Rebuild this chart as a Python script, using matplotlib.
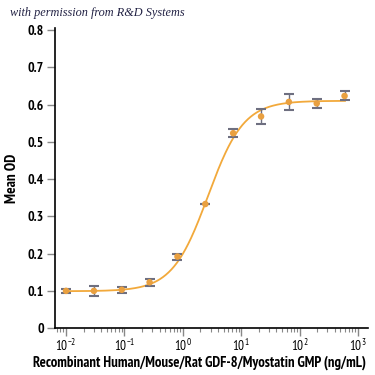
import numpy as np
import matplotlib
matplotlib.use("Agg")
import matplotlib.pyplot as plt
from matplotlib.ticker import LogLocator, FixedLocator

# measured points (3-fold dilution series)
conc = [0.01, 0.03, 0.09, 0.27, 0.81, 2.43, 7.29, 21.9, 65.6, 197, 590]
mean_od = [0.100, 0.100, 0.103, 0.123, 0.192, 0.333, 0.523, 0.568, 0.607, 0.603, 0.623]
err = [0.005, 0.013, 0.008, 0.010, 0.008, 0.0, 0.010, 0.020, 0.022, 0.012, 0.012]

# 4PL fit parameters: bottom, top, ec50, hill
fit_bottom, fit_top, fit_ec50, fit_hill = 0.099, 0.610, 2.7, 1.42

ytick_vals = [0, 0.1, 0.2, 0.3, 0.4, 0.5, 0.6, 0.7, 0.8]
ytick_labels = ["0", "0.1", "0.2", "0.3", "0.4", "0.5", "0.6", "0.7", "0.8"]
xtick_vals = [1e-2, 1e-1, 1, 10, 100, 1000]

plt.rcParams["font.family"] = ["PT Sans Narrow", "DejaVu Sans"]
plt.rcParams["mathtext.fontset"] = "custom"
plt.rcParams["mathtext.rm"] = "PT Sans Narrow"
plt.rcParams["mathtext.it"] = "PT Sans Narrow"
plt.rcParams["mathtext.bf"] = "PT Sans Narrow:bold"

line_col = "#F2A93B"
dot_col = "#E9A040"
err_col = "#6E6F80"

fig = plt.figure(figsize=(3.75, 3.75), dpi=100)
ax = fig.add_axes([0.147, 0.125, 0.834, 0.80])

xs = np.logspace(-2, np.log10(600), 300)
ys = fit_bottom + (fit_top - fit_bottom) / (1 + (fit_ec50 / xs) ** fit_hill)
ax.plot(xs, ys, color=line_col, lw=1.3, zorder=2)
ax.errorbar(conc, mean_od, yerr=err, fmt="none", ecolor=err_col, elinewidth=1.0,
            capsize=3.5, capthick=1.5, zorder=3)
ax.scatter(conc, mean_od, s=22, color=dot_col, zorder=4, edgecolors="none")

ax.set_xscale("log")
ax.set_xlim(0.0065, 1480)
ax.set_ylim(0, 0.805)
ax.set_yticks(ytick_vals)
ax.set_yticklabels(ytick_labels)
ax.xaxis.set_major_locator(FixedLocator(xtick_vals))
ax.xaxis.set_minor_locator(LogLocator(base=10, subs=np.arange(2, 10), numticks=20))

for s in ["top", "right"]:
    ax.spines[s].set_visible(False)
for s in ["left", "bottom"]:
    ax.spines[s].set_linewidth(1.2)
    ax.spines[s].set_color("black")

ax.tick_params(axis="both", which="major", color="#888888", length=6, width=1.0,
               labelsize=10, pad=2)
ax.tick_params(axis="x", which="major", labelsize=9.5, pad=1)
ax.tick_params(axis="x", which="minor", color="#888888", length=3, width=0.8)
for lab in ax.get_yticklabels():
    lab.set_fontweight("bold")

ax.set_ylabel("Mean OD", fontsize=11, fontweight="bold", labelpad=6)
fig.text(0.532, 0.033, "Recombinant Human/Mouse/Rat GDF-8/Myostatin GMP (ng/mL)",
         fontsize=10.5, fontweight="bold", ha="center", va="center")

fig.text(0.027, 0.957, "with permission from R&D Systems", fontsize=8.8, style="italic",
         family="Liberation Serif", color="#222244")

fig.savefig("out.png", dpi=100)
